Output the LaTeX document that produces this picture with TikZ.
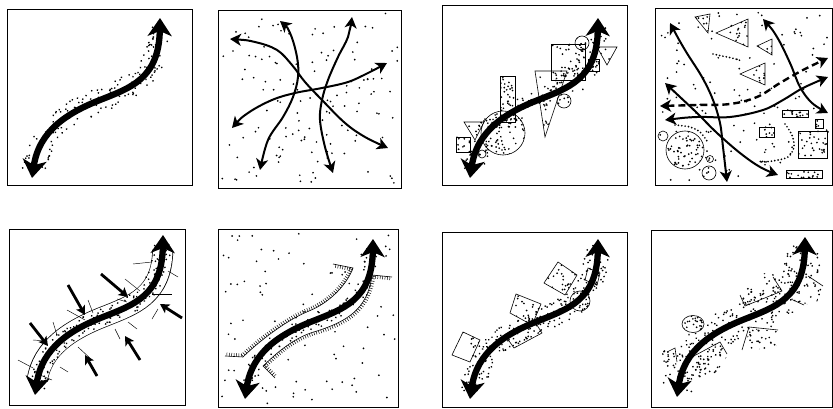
\documentclass[tikz,border=0pt]{standalone}
\usetikzlibrary{arrows.meta,decorations.markings}
\tikzset{
  frame/.style={line width=0.7pt},
  shp/.style={line width=0.6pt},
  main/.style={line width=6.3pt, >={Stealth[length=18pt,width=24pt,inset=5pt]}, <->},
  thinarrow/.style={line width=2pt, >={Stealth[length=11pt,width=12pt,inset=3pt]}, <->},
  push/.style={line width=2.8pt, -{Stealth[length=9pt,width=10pt,inset=2pt]}},
  spike/.style={line width=0.45pt},
  stip/.style 2 args={postaction={decorate}, decoration={markings,
      mark=between positions 0.04 and 0.96 step #1 with {\fill ({rand*2.5pt},{rand*#2}) circle (0.95pt);}}},
  ticksL/.style={line width=0.6pt, postaction={decorate}, decoration={markings,
      mark=between positions 0.01 and 0.99 step 2.4pt with {\draw[line width=0.5pt] (0pt,0pt) -- (0pt,3.4pt);}}},
  ticksR/.style={line width=0.6pt, postaction={decorate}, decoration={markings,
      mark=between positions 0.01 and 0.99 step 2.4pt with {\draw[line width=0.5pt] (0pt,0pt) -- (0pt,-3.4pt);}}},
  trail/.style={line width=1.9pt, line cap=round, dash pattern=on 0pt off 3.4pt}
}
\newcommand\mainpath{(25,169) .. controls (32,122) and (60,104) .. (93,91) .. controls (123,79) and (152,70) .. (153,9)}
\newcount\scatseed
\newcommand\scat[5]{\global\advance\scatseed by 1
  \foreach \k in {1,...,#5}{%
    \pgfmathsetmacro\ux{frac(abs(sin(\k*78.233+\the\scatseed*37.719)*4375.85))}%
    \pgfmathsetmacro\uy{frac(abs(sin(\k*12.9898+\the\scatseed*53.17+11.3)*3758.54))}%
    \fill ({#1+\ux*(#3-#1)},{#2+\uy*(#4-#2)}) circle (0.95pt);}}
\newcommand\dfill[6]{\begin{scope}\clip #1; \scat{#2}{#3}{#4}{#5}{#6}\end{scope}\draw[shp] #1;}
\begin{document}
\begin{tikzpicture}[x=1pt,y=-1pt]
\useasboundingbox (0,0) rectangle (833,409);
\pgfmathsetseed{12}
% ---------------- Panel 1
\draw[frame] (7,9) rectangle (192,185);
\begin{scope}[shift={(7,9)}]
  \path[stip={1.3pt}{12pt}] \mainpath;
  \draw[main] \mainpath;
\end{scope}
% ---------------- Panel 2
\draw[frame] (218,10) rectangle (401,188);
\scat{221}{13}{398}{185}{130}
\draw[thinarrow] plot[smooth, tension=0.6] coordinates {(230,39) (255,42) (277,50) (292,65) (305,82) (322,100) (345,123) (365,137) (388,148)};
\draw[thinarrow] plot[smooth, tension=0.6] coordinates {(280,21) (290,33) (297,57) (298,77) (293,97) (283,117) (268,140) (260,170)};
\draw[thinarrow] plot[smooth, tension=0.6] coordinates {(352,17) (348,37) (338,57) (328,80) (322,100) (320,120) (325,147) (333,173)};
\draw[thinarrow] plot[smooth, tension=0.6] coordinates {(232,128) (248,113) (272,100) (295,93) (322,88) (348,82) (368,73) (387,63)};
% ---------------- Panel 3
\draw[frame] (442,5) rectangle (627,185);
\dfill{(500,76) rectangle (515,122)}{500}{76}{515}{122}{24}
\dfill{(456,137) rectangle (470,152)}{456}{137}{470}{152}{9}
\dfill{(464,122)--(484,122)--(475,140)--cycle}{464}{122}{484}{140}{9}
\dfill{(503,133) circle (22pt)}{481}{111}{525}{155}{65}
\dfill{(482,154) circle (4pt)}{478}{150}{486}{158}{3}
\dfill{(535,71)--(567,71)--(545,137)--cycle}{535}{71}{567}{137}{36}
\dfill{(564,101) circle (7pt)}{557}{94}{571}{108}{5}
\dfill{(551,44) rectangle (585,80)}{551}{44}{585}{80}{40}
\dfill{(588,59) rectangle (599,71)}{588}{59}{599}{71}{6}
\dfill{(582,43) circle (7pt)}{575}{36}{589}{50}{5}
\dfill{(597,47)--(617,47)--(607,65)--cycle}{597}{47}{617}{65}{9}
\begin{scope}[shift={(445,9)}]
  \path[stip={1.4pt}{12pt}] \mainpath;
  \draw[main] \mainpath;
\end{scope}
% ---------------- Panel 4
\draw[frame] (655,8) rectangle (832.5,185);
\scat{658}{11}{830}{182}{125}
\dfill{(695,17)--(710,14)--(708,33)--cycle}{695}{14}{710}{33}{9}
\dfill{(716,33)--(748,19)--(748,47)--cycle}{716}{19}{748}{47}{26}
\dfill{(757,46)--(772,39)--(772,55)--cycle}{757}{39}{772}{55}{8}
\dfill{(740,74)--(765,63)--(765,85)--cycle}{740}{63}{765}{85}{16}
\dfill{(782,110) rectangle (808,117)}{782}{110}{808}{117}{14}
\dfill{(759,127) rectangle (774,137)}{759}{127}{774}{137}{8}
\dfill{(815,119) rectangle (823,128)}{815}{119}{823}{128}{4}
\dfill{(798,131) rectangle (827,158)}{798}{131}{827}{158}{28}
\dfill{(786,170) rectangle (822,178)}{786}{170}{822}{178}{16}
\draw[shp] (663,136) circle (5pt);
\dfill{(685,150) circle (19pt)}{666}{131}{704}{169}{55}
\dfill{(710,159) circle (3.5pt)}{707}{156}{713}{162}{2}
\dfill{(709,173) circle (7pt)}{702}{166}{716}{180}{6}
\draw[trail] plot[smooth] coordinates {(713,54) (722,56) (732,58) (742,61)};
\draw[trail] plot[smooth] coordinates {(675,125) (690,127) (700,132) (707,141)};
\draw[trail] plot[smooth] coordinates {(785,124) (792,135) (794,147) (788,157) (773,161) (760,162)};
\draw[thinarrow] plot[smooth, tension=0.6] coordinates {(670,23) (685,50) (702,77) (713,100) (720,123) (723,147) (727,182)};
\draw[thinarrow] plot[smooth, tension=0.6] coordinates {(665,83) (680,97) (697,113) (717,133) (740,153) (760,167) (778,175)};
\draw[thinarrow] plot[smooth, tension=0.6] coordinates {(763,19) (777,37) (790,63) (800,87) (812,103) (828,113)};
\draw[thinarrow, line width=2.4pt, dash pattern=on 7pt off 4pt] plot[smooth, tension=0.6] coordinates {(660,106) (697,105) (730,104) (757,97) (780,83) (803,70) (828,58)};
\draw[thinarrow] plot[smooth, tension=0.6] coordinates {(665,120) (697,117) (730,117) (763,110) (783,100) (803,88) (828,77)};
% ---------------- Panel 5
\draw[frame] (9,229) rectangle (185,405);
\begin{scope}[shift={(10,226)}]
  \draw[line width=21pt, shorten <=15pt, shorten >=15pt] \mainpath;
  \draw[white, line width=19.6pt, shorten <=14pt, shorten >=14pt] \mainpath;
  \path[stip={1.3pt}{8.5pt}] \mainpath;
\end{scope}
\foreach \a/\b/\c/\d in {18/360/33/368, 33/340/47/341, 53/322/57/335, 67/310/85/320, 88/300/93/313,
   60/367/68/372, 78/347/92/360, 133/264/152/262, 168/271/178/277, 125/279/140/291, 152/294/172/294,
   117/299/127/302, 158/309/152/319, 128/322/137/329, 115/329/120/339, 40/375/52/380}
  \draw[spike] (\a,\b) -- (\c,\d);
\begin{scope}[shift={(10,226)}]
  \draw[main] \mainpath;
\end{scope}
\draw[push] (30,323) -- (48,346);
\draw[push] (68,285) -- (85,315);
\draw[push] (101,274) -- (128,297);
\draw[push] (182,318) -- (160,304);
\draw[push] (140,360) -- (125,336);
\draw[push] (97,376) -- (85,355);
% ---------------- Panel 6
\draw[frame] (218,229) rectangle (398,407);
\scat{221}{232}{395}{404}{85}
\begin{scope}[shift={(220,230)}]
  \path[stip={2pt}{7pt}] \mainpath;
  \draw[ticksL] (5,126) -- (23,127) .. controls (35,115) and (64,91) .. (89,81) .. controls (111,72) and (127,54) .. (133,38) -- (113,34);
  \draw[ticksR] (55,148) -- (43,136) .. controls (50,130) and (70,108) .. (97,101) .. controls (125,92) and (148,80) .. (152,45) -- (172,47);
  \draw[main] \mainpath;
\end{scope}
% ---------------- Panel 7
\draw[frame] (442,232) rectangle (627,407);
\dfill{(463,332)--(480,340)--(470,362)--(452,355)--cycle}{452}{332}{480}{362}{20}
\dfill{(516,294)--(541,304)--(532,325)--(510,313)--cycle}{510}{294}{541}{325}{24}
\dfill{(507,338)--(535,322)--(542,333)--(514,348)--cycle}{507}{322}{542}{348}{18}
\dfill{(558,262)--(577,275)--(565,295)--(544,283)--cycle}{544}{262}{577}{295}{24}
\dfill{(588,268)--(600,273)--(597,285)--(585,280)--cycle}{585}{268}{600}{285}{8}
\dfill{(580,301) circle (10pt)}{570}{291}{590}{311}{14}
\begin{scope}[shift={(445,230)}]
  \path[stip={0.9pt}{12pt}] \mainpath;
  \draw[main] \mainpath;
\end{scope}
% ---------------- Panel 8
\draw[frame] (651,230) rectangle (832.5,407);
\begin{scope}\clip (738,285)--(772,270)--(782,291)--(745,306)--cycle; \scat{738}{270}{782}{306}{38}\end{scope}
\draw[shp] (740,295)--(745,306)--(782,291)--(773,277);
\begin{scope}\clip (806,272)--(825,284)--(815,306)--(790,300)--cycle; \scat{790}{272}{825}{306}{28}\end{scope}
\draw[shp] (808,276)--(823,286);
\draw[shp] (793,300)--(804,305);
\begin{scope}\clip (749,328)--(778,331)--(776,348)--(745,350)--cycle; \scat{745}{328}{778}{350}{22}\end{scope}
\draw[shp] (742,350)--(749,327)--(778,330);
\begin{scope}\clip (694,358)--(720,344)--(727,356)--(715,377)--(696,375)--cycle; \scat{694}{344}{727}{377}{32}\end{scope}
\draw[shp] (692,357)--(720,342)--(727,354);
\begin{scope}\clip (662,350) rectangle (676,366); \scat{662}{350}{676}{366}{14}\end{scope}
\draw[shp] (667,352)--(675,348)--(677,362);
\dfill{(693,324) ellipse (11pt and 8.5pt)}{682}{315}{704}{333}{22}
\begin{scope}[shift={(652,228)}]
  \path[stip={0.8pt}{17pt}] \mainpath;
  \draw[main] \mainpath;
\end{scope}
\end{tikzpicture}
\end{document}
